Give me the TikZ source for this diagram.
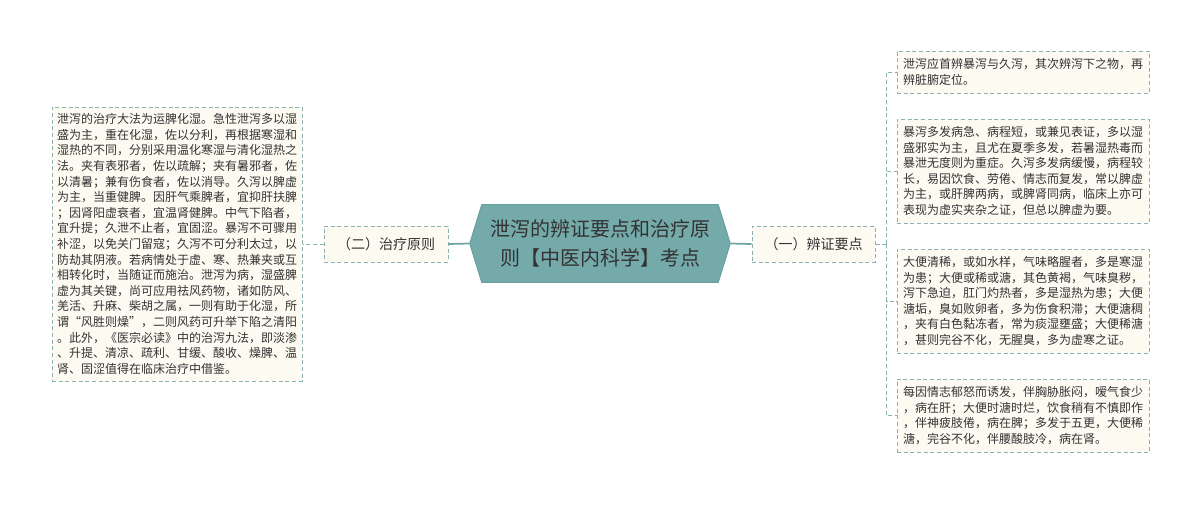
\documentclass[tikz,border=0pt]{standalone}
\usepackage{fontspec}
\setmainfont{Noto Sans CJK SC}
\usetikzlibrary{calc,backgrounds}
\definecolor{leaffill}{HTML}{FCFAF1}
\definecolor{leafline}{HTML}{8BB1B1}
\definecolor{hexfill}{HTML}{75AAAB}
\definecolor{hexline}{HTML}{6A9FA0}
\definecolor{connline}{HTML}{6FA4A5}
\definecolor{txt}{HTML}{333333}
\tikzset{
  leafbox/.style={draw=leafline, fill=leaffill, dash pattern=on 3pt off 2pt, line width=0.75pt,
    text=txt, font=\fontsize{9}{11.7}\selectfont, align=left, text width=180pt, inner sep=0pt},
  branchbox/.style={draw=leafline, fill=leaffill, dash pattern=on 3pt off 2pt, line width=0.75pt,
    text=txt, font=\fontsize{10.5}{12}\selectfont, inner sep=0pt, minimum height=27pt},
  centerbox/.style={text=txt, font=\fontsize{15}{22}\selectfont, align=center, inner sep=0pt,
    minimum width=177pt, minimum height=57.75pt},
  solidconn/.style={draw=connline, line width=1.3pt},
  dashconn/.style={draw=leafline, line width=0.75pt, dash pattern=on 3pt off 2pt},
}
\begin{document}
\begin{tikzpicture}[x=0.75pt,y=-0.75pt]
\useasboundingbox (0,0) rectangle (1200,504);

% center
\node[centerbox] (c) at (600,243.5) {泄泻的辨证要点和治疗原\\则【中医内科学】考点};
\coordinate (cl) at ($(c.west)+(-12,0)$);
\coordinate (cr) at ($(c.east)+(12,0)$);
\begin{scope}[on background layer]
\path[fill=white] (0,0) rectangle (1200,504);
\filldraw[fill=hexfill, draw=hexline, line width=0.75pt]
  (c.north west) -- (c.north east) -- (cr) -- (c.south east) -- (c.south west) -- (cl) -- cycle;
\end{scope}

% branches
\node[branchbox, minimum width=93pt] (lb) at (386,244) {（二）治疗原则};
\node[branchbox, minimum width=92.25pt] (rb) at (813.5,244) {（一）辨证要点};

% left leaf
\node[leafbox, minimum width=187.5pt, minimum height=205.5pt] (lt) at (177,244) {泄泻的治疗大法为运脾化湿。急性泄泻多以湿\\
盛为主，重在化湿，佐以分利，再根据寒湿和\\
湿热的不同，分别采用温化寒湿与清化湿热之\\
法。夹有表邪者，佐以疏解；夹有暑邪者，佐\\
以清暑；兼有伤食者，佐以消导。久泻以脾虚\\
为主，当重健脾。因肝气乘脾者，宜抑肝扶脾\\
；因肾阳虚衰者，宜温肾健脾。中气下陷者，\\
宜升提；久泄不止者，宜固涩。暴泻不可骤用\\
补涩，以免关门留寇；久泻不可分利太过，以\\
防劫其阴液。若病情处于虚、寒、热兼夹或互\\
相转化时，当随证而施治。泄泻为病，湿盛脾\\
虚为其关键，尚可应用祛风药物，诸如防风、\\
羌活、升麻、柴胡之属，一则有助于化湿，所\\
谓“风胜则燥”，二则风药可升举下陷之清阳\\
。此外，《医宗必读》中的治泻九法，即淡渗\\
、升提、清凉、疏利、甘缓、酸收、燥脾、温\\
肾、固涩值得在临床治疗中借鉴。};

% right leaves
\node[leafbox, minimum width=189pt, minimum height=31.5pt] (r1) at (1023,72) {泄泻应首辨暴泻与久泻，其次辨泻下之物，再\\
辨脏腑定位。};
\node[leafbox, minimum width=189pt, minimum height=78pt] (r2) at (1023,171) {暴泻多发病急、病程短，或兼见表证，多以湿\\
盛邪实为主，且尤在夏季多发，若暑湿热毒而\\
暴泄无度则为重症。久泻多发病缓慢，病程较\\
长，易因饮食、劳倦、情志而复发，常以脾虚\\
为主，或肝脾两病，或脾肾同病，临床上亦可\\
表现为虚实夹杂之证，但总以脾虚为要。};
\node[leafbox, minimum width=189pt, minimum height=78pt] (r3) at (1023,301) {大便清稀，或如水样，气味略腥者，多是寒湿\\
为患；大便或稀或溏，其色黄褐，气味臭秽，\\
泻下急迫，肛门灼热者，多是湿热为患；大便\\
溏垢，臭如败卵者，多为伤食积滞；大便溏稠\\
，夹有白色黏冻者，常为痰湿壅盛；大便稀溏\\
，甚则完谷不化，无腥臭，多为虚寒之证。};
\node[leafbox, minimum width=189pt, minimum height=54.75pt] (r4) at (1023,415.5) {每因情志郁怒而诱发，伴胸胁胀闷，嗳气食少\\
，病在肝；大便时溏时烂，饮食稍有不慎即作\\
，伴神疲肢倦，病在脾；多发于五更，大便稀\\
溏，完谷不化，伴腰酸肢冷，病在肾。};

% connectors
\draw[solidconn] (lb.east) -- (cl);
\draw[solidconn] (cr) -- (rb.west);
\draw[dashconn] (lb.west) -- (lt.east);
\coordinate (bus) at ($(rb.east)+(11,0)$);
\draw[dashconn] (rb.east) -- (bus);
\draw[dashconn] (bus) |- (r1.west);
\draw[dashconn] (bus) |- (r2.west);
\draw[dashconn] (bus) |- (r3.west);
\draw[dashconn] (bus) |- (r4.west);
\end{tikzpicture}
\end{document}
